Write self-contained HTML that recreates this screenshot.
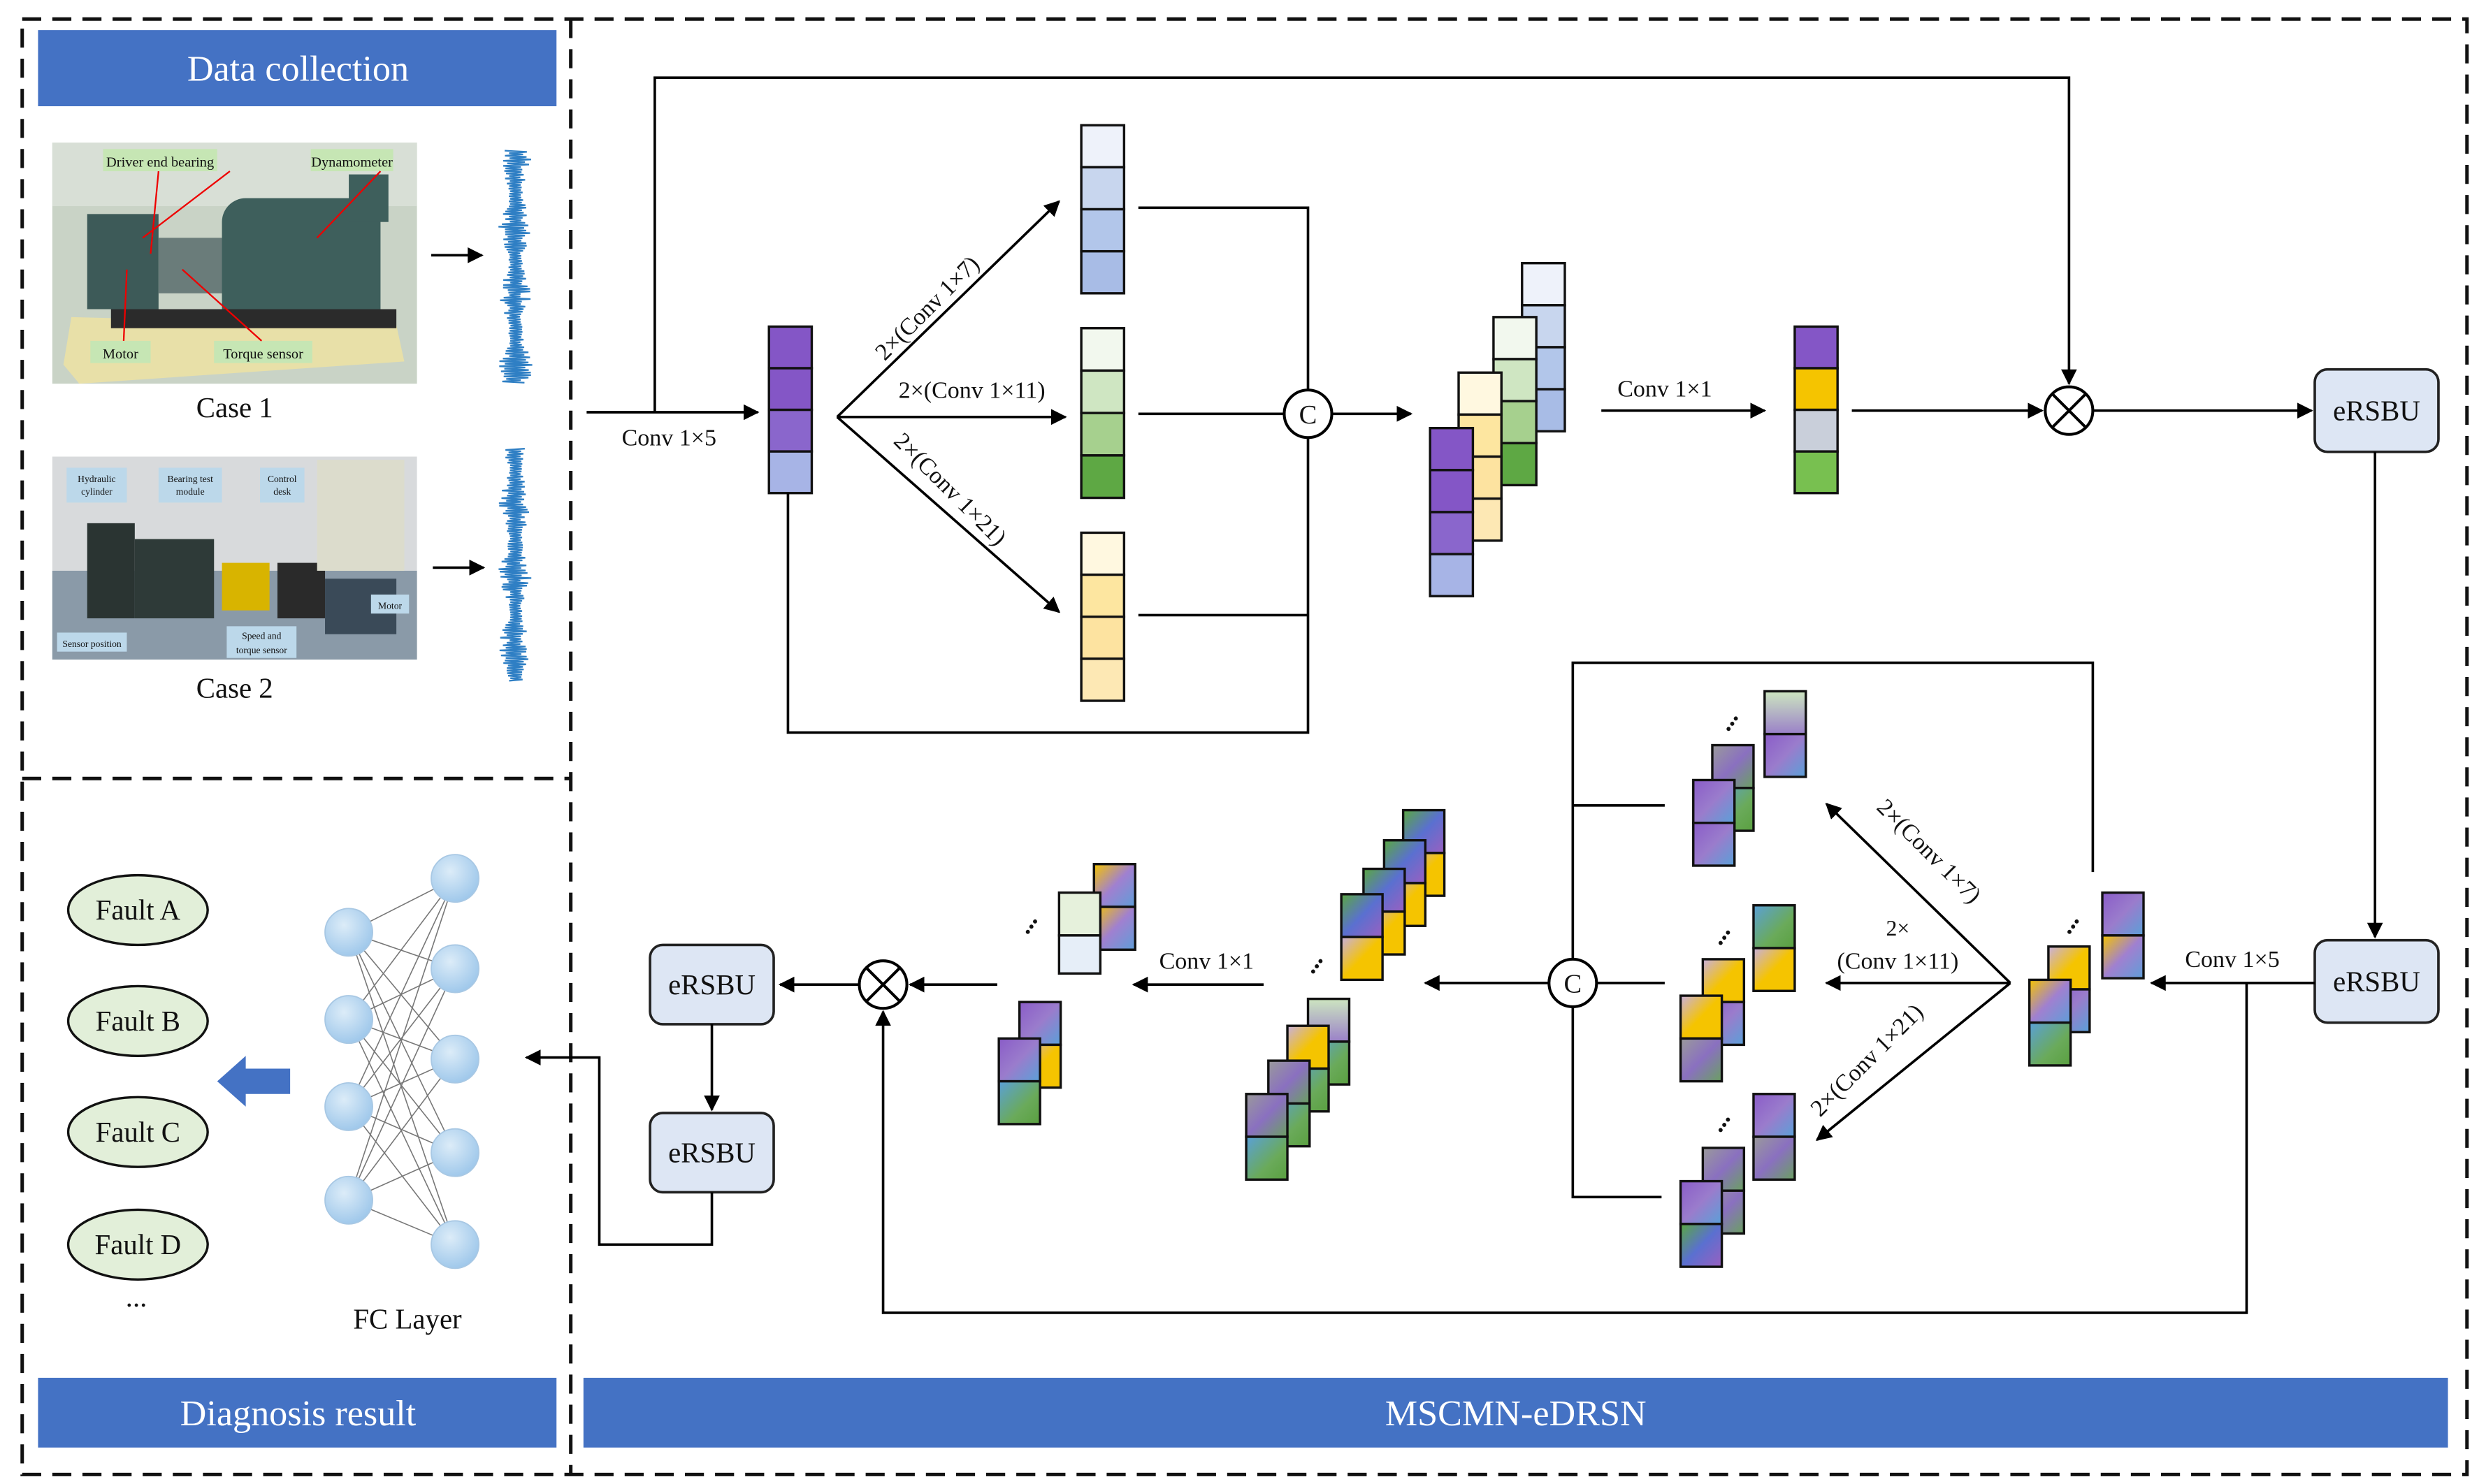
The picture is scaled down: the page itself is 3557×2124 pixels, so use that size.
<!DOCTYPE html>
<html><head><meta charset="utf-8"><style>
html,body{margin:0;padding:0;background:#fff}
svg{display:block}
text{font-family:"Liberation Serif",serif}
</style></head><body>
<svg id="s" width="3557" height="2124" viewBox="0 0 1568 936" preserveAspectRatio="none" xmlns="http://www.w3.org/2000/svg">
<defs>
<marker id="ar" markerWidth="10" markerHeight="10" refX="9" refY="5" orient="auto" markerUnits="userSpaceOnUse"><path d="M0,0 L10,5 L0,10 z" fill="#000"/></marker>
<linearGradient id="gA" x1="0" y1="0" x2="1" y2="1"><stop offset="0" stop-color="#8a5cc8"/><stop offset=".5" stop-color="#9a7ccc"/><stop offset="1" stop-color="#5aa0d8"/></linearGradient>
<linearGradient id="gB" x1="0" y1="0" x2="1" y2="1"><stop offset="0" stop-color="#f5c400"/><stop offset=".5" stop-color="#a080d0"/><stop offset="1" stop-color="#5e9ed8"/></linearGradient>
<linearGradient id="gC" x1="0" y1="0" x2="1" y2="1"><stop offset="0" stop-color="#5aa0d8"/><stop offset=".6" stop-color="#6aaa5a"/><stop offset="1" stop-color="#5aa040"/></linearGradient>
<linearGradient id="gD" x1="0" y1="0" x2="1" y2="1"><stop offset="0" stop-color="#5aa840"/><stop offset=".5" stop-color="#5a70d0"/><stop offset="1" stop-color="#9a60c0"/></linearGradient>
<linearGradient id="gE" x1="0" y1="0" x2="1" y2="1"><stop offset="0" stop-color="#c8b0e0"/><stop offset=".5" stop-color="#f5c400"/><stop offset="1" stop-color="#f5c400"/></linearGradient>
<linearGradient id="gF" x1="0" y1="0" x2="1" y2="1"><stop offset="0" stop-color="#9a9a9a"/><stop offset=".5" stop-color="#8a70c0"/><stop offset="1" stop-color="#6aa060"/></linearGradient>
<linearGradient id="gG" x1="0" y1="0" x2="0" y2="1"><stop offset="0" stop-color="#cde6c0"/><stop offset="1" stop-color="#9a80c8"/></linearGradient>
<radialGradient id="nd" cx=".4" cy=".35" r=".7"><stop offset="0" stop-color="#dcecf8"/><stop offset="1" stop-color="#9cc6ea"/></radialGradient>
</defs>
<g id="root"></g>
</svg>
<script>
const R=document.getElementById('root');let h='';
const L=(a,b,c,d,m)=>h+=`<line x1="${a}" y1="${b}" x2="${c}" y2="${d}" stroke="#000" stroke-width="1.6" ${m?'marker-end="url(#ar)"':''}/>`;
const P=(pts,m)=>h+=`<polyline points="${pts}" fill="none" stroke="#000" stroke-width="1.6" ${m?'marker-end="url(#ar)"':''}/>`;
const T=(x,y,s,t,sz,a,col)=>h+=`<text x="${x}" y="${y}" font-size="${sz||15}" text-anchor="${a||'middle'}" style="fill:${col||'#111'}">${t}</text>`;
const col=(x,y,w,hh,fills)=>{let n=fills.length,c=hh/n;fills.forEach((f,i)=>h+=`<rect x="${x}" y="${y+i*c}" width="${w}" height="${c}" fill="${f}" stroke="#111" stroke-width="1.5"/>`);};
const circ=(x,y,t)=>{h+=`<circle cx="${x}" cy="${y}" r="15" fill="#fff" stroke="#000" stroke-width="1.8"/>`;if(t)T(x,y+6,0,t,17);else h+=`<path d="M${x-10},${y-10}L${x+10},${y+10}M${x+10},${y-10}L${x-10},${y+10}" stroke="#000" stroke-width="1.8"/>`;};
const box=(x,y,w,hh,t)=>{h+=`<rect x="${x}" y="${y}" width="${w}" height="${hh}" rx="8" fill="#dde6f4" stroke="#222" stroke-width="1.6"/>`;T(x+w/2,y+hh/2+6,0,t,18);};
h+=`<g stroke="#111" stroke-width="2.2" stroke-dasharray="12,7" fill="none"><rect x="14" y="12" width="1542" height="918"/><line x1="360" y1="12" x2="360" y2="930"/><line x1="14" y1="491" x2="360" y2="491"/></g>`;
h+=`<rect x="24" y="19" width="327" height="48" fill="#4472C4"/>`;T(188,51,0,'Data collection',23,'middle','#fff');
h+=`<rect x="24" y="869" width="327" height="44" fill="#4472C4"/>`;T(188,899,0,'Diagnosis result',23,'middle','#fff');
h+=`<rect x="368" y="869" width="1176" height="44" fill="#4472C4"/>`;T(956,899,0,'MSCMN-eDRSN',23,'middle','#fff');
h+=`<rect x="33" y="90" width="230" height="152" fill="#c9d3c6"/><rect x="33" y="90" width="230" height="40" fill="#d8dfd6"/>
<rect x="55" y="135" width="45" height="60" fill="#3d5a58"/><rect x="100" y="150" width="45" height="35" fill="#6a7c7a"/><rect x="140" y="125" width="100" height="95" rx="15" fill="#3e5f5c"/><rect x="220" y="110" width="25" height="30" fill="#3e5f5c"/>
<polygon points="45,200 250,205 255,228 50,242 40,230" fill="#e8e0a8"/><rect x="70" y="195" width="180" height="12" fill="#2b2b2b"/>
<rect x="65" y="94" width="72" height="14" fill="#c6e6b4"/><rect x="196" y="94" width="52" height="14" fill="#c6e6b4"/><rect x="57" y="215" width="38" height="14" fill="#c6e6b4"/><rect x="135" y="215" width="62" height="14" fill="#c6e6b4"/>`;
T(101,105,0,'Driver end bearing',9);T(222,105,0,'Dynamometer',9);T(76,226,0,'Motor',9);T(166,226,0,'Torque sensor',9);
h+=`<path d="M100,108L95,160M145,108L90,150M240,108L200,150M78,215L80,170M165,215L115,170" stroke="#e00" stroke-width="1"/>`;
T(148,263,0,'Case 1',18);
h+=`<rect x="33" y="288" width="230" height="128" fill="#d8dadc"/><rect x="33" y="360" width="230" height="56" fill="#8a9aa8"/>
<rect x="55" y="330" width="30" height="60" fill="#2a3432"/><rect x="85" y="340" width="50" height="50" fill="#2e3a38"/><rect x="140" y="355" width="30" height="30" fill="#d8b400"/><rect x="175" y="355" width="30" height="35" fill="#2a2a2a"/><rect x="200" y="290" width="55" height="70" fill="#dcdccc"/><rect x="205" y="365" width="45" height="35" fill="#3a4a58"/>
<rect x="42" y="295" width="38" height="22" fill="#bcd8ea"/><rect x="100" y="295" width="40" height="22" fill="#bcd8ea"/><rect x="164" y="295" width="28" height="22" fill="#bcd8ea"/><rect x="36" y="399" width="44" height="12" fill="#bcd8ea"/><rect x="143" y="395" width="44" height="20" fill="#bcd8ea"/><rect x="234" y="375" width="24" height="12" fill="#bcd8ea"/>`;
T(61,304,0,'Hydraulic',6);T(61,312,0,'cylinder',6);T(120,304,0,'Bearing test',6);T(120,312,0,'module',6);T(178,304,0,'Control',6);T(178,312,0,'desk',6);T(58,408,0,'Sensor position',6);T(165,403,0,'Speed and',6);T(165,412,0,'torque sensor',6);T(246,384,0,'Motor',6);
T(148,440,0,'Case 2',18);
function sig(y0,y1){let p=[];let s=7;for(let y=y0;y<=y1;y+=0.8){s=(s*9301+49297)%233280;let a=3+(s/233280)*8*(0.6+0.4*Math.sin(y/7));p.push(`${(325+(Math.floor(y*1.25)%2?a:-a)).toFixed(1)},${y.toFixed(1)}`);}h+=`<polyline points="${p.join(' ')}" fill="none" stroke="#2f7fc4" stroke-width="1"/>`;}
sig(95,242);sig(283,430);
L(272,161,304,161,1);L(273,358,305,358,1);
L(370,260,478,260,1);T(422,281,0,'Conv 1×5',15);
P('413,260 413,49 1305,49 1305,242',1);
col(485,206,27,105,['#8456c6','#8456c6','#8a66cc','#a7b4e6']);
L(528,263,668,127,1);L(528,263,672,263,1);L(528,263,668,386,1);
h+=`<text transform="translate(558,228) rotate(-45)" font-size="15" style="fill:#111">2×(Conv 1×7)</text>`;
T(613,251,0,'2×(Conv 1×11)',15);
h+=`<text transform="translate(563,279) rotate(45)" font-size="15" style="fill:#111">2×(Conv 1×21)</text>`;
const blue=['#eef2fa','#c8d6ee','#b2c6ea','#a8bce6'],green=['#f2f8ee','#cfe6c2','#a6d08e','#5ea844'],yel=['#fff8e0','#fde6a0','#fde3a0','#fde8b4'],pur=['#8456c6','#8456c6','#8a66cc','#a7b4e6'];
col(682,79,27,106,blue);col(682,207,27,107,green);col(682,336,27,106,yel);
P('718,131 825,131 825,246');L(718,261,810,261);P('718,388 825,388');P('497,311 497,462 825,462 825,276');
circ(825,261,'C');L(840,261,890,261,1);
col(960,166,27,106,blue);col(942,200,27,106,green);col(920,235,27,106,yel);col(902,270,27,106,pur);
T(1050,250,0,'Conv 1×1',15);L(1010,259,1113,259,1);
col(1132,206,27,105,['#8456c6','#f5c400','#c9cfda','#78c050']);
L(1168,259,1288,259,1);circ(1305,259);L(1320,259,1458,259,1);
box(1460,233,78,52,'eRSBU');L(1498,285,1498,591,1);box(1460,593,78,52,'eRSBU');
L(1460,620,1357,620,1);T(1408,610,0,'Conv 1×5',15);
P('1417,620 1417,828 557,828 557,638',1);
const pc=(x,y,a,b)=>{h+=`<rect x="${x}" y="${y}" width="26" height="27" fill="url(#${a})" stroke="#111" stroke-width="1.5"/><rect x="${x}" y="${y+27}" width="26" height="27" fill="url(#${b})" stroke="#111" stroke-width="1.5"/>`;};
const dots=(x,y)=>h+=`<text x="${x}" y="${y}" font-size="16" font-weight="bold" transform="rotate(-55 ${x} ${y})" style="fill:#111">...</text>`;
pc(1326,563,'gA','gB');pc(1292,597,'gE','gA');pc(1280,618,'gB','gC');dots(1305,590);
L(1268,620,1152,507,1);L(1268,620,1152,620,1);L(1268,620,1146,719,1);
h+=`<text transform="translate(1183,510) rotate(45)" font-size="15" style="fill:#111">2×(Conv 1×7)</text>`;
T(1197,590,0,'2×',14);T(1197,611,0,'(Conv 1×11)',15);
h+=`<text transform="translate(1148,705) rotate(-45)" font-size="15" style="fill:#111">2×(Conv 1×21)</text>`;
P('1320,550 1320,418 992,418 992,605');P('992,635 992,755 1048,755');L(992,508,1050,508);L(1007,620,1050,620);
circ(992,620,'C');L(977,620,899,620,1);
pc(1113,436,'gG','gA');pc(1080,470,'gF','gC');pc(1068,492,'gA','gA');dots(1090,462);
pc(1106,571,'gC','gE');pc(1074,605,'gE','gA');pc(1060,628,'gE','gF');dots(1085,597);
pc(1106,690,'gA','gF');pc(1074,724,'gF','gF');pc(1060,745,'gA','gD');dots(1085,715);
pc(885,511,'gD','gE');pc(873,530,'gD','gE');pc(860,548,'gD','gE');pc(846,564,'gD','gE');dots(828,615);
pc(825,630,'gG','gC');pc(812,647,'gE','gC');pc(800,669,'gF','gC');pc(786,690,'gF','gC');
T(761,611,0,'Conv 1×1',15);L(797,621,715,621,1);
pc(690,545,'gB','gB');dots(648,590);
h+=`<rect x="668" y="563" width="26" height="27" fill="#e6f1dc" stroke="#111" stroke-width="1.5"/><rect x="668" y="590" width="26" height="24" fill="#e6eef8" stroke="#111" stroke-width="1.5"/>`;
pc(643,632,'gA','gE');pc(630,655,'gA','gC');
L(629,621,574,621,1);circ(557,621);L(542,621,492,621,1);
box(410,596,78,50,'eRSBU');L(449,646,449,700,1);box(410,702,78,50,'eRSBU');
P('449,752 449,785 378,785 378,667 332,667',1);
const A=[[220,588],[220,643],[220,698],[220,757]],B=[[287,554],[287,611],[287,668],[287,727],[287,785]];
A.forEach(a=>B.forEach(b=>h+=`<line x1="${a[0]}" y1="${a[1]}" x2="${b[0]}" y2="${b[1]}" stroke="#777" stroke-width="0.7"/>`));
A.concat(B).forEach(c=>h+=`<circle cx="${c[0]}" cy="${c[1]}" r="15" fill="url(#nd)" stroke="#a8c8e4" stroke-width="0.8"/>`);
T(257,838,0,'FC Layer',18);
['Fault A','Fault B','Fault C','Fault D'].forEach((t,i)=>{let y=[574,644,714,785][i];h+=`<ellipse cx="87" cy="${y}" rx="44" ry="22" fill="#e2efd9" stroke="#111" stroke-width="1.5"/>`;T(87,y+6,0,t,18);});
T(86,824,0,'...',18);
h+=`<polygon points="137,682 155,666 155,674 183,674 183,690 155,690 155,698" fill="#4472C4"/>`;
R.innerHTML=h;
</script>
</body></html>
